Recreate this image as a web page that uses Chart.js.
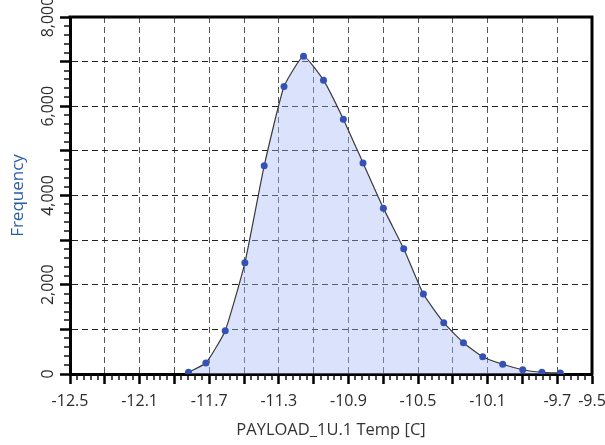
<!DOCTYPE html>
<html>
<head>
<meta charset="utf-8">
<script src="https://cdn.jsdelivr.net/npm/chart.js@4.4.0/dist/chart.umd.min.js"></script>
<style>
  html, body { margin: 0; padding: 0; background: #fff; }
  #wrap { width: 605px; height: 445px; }
</style>
</head>
<body>
<div id="wrap"><canvas id="histChart"></canvas></div>
<script>
// bin centres (deg C) and counts
var tempBins = [-11.819, -11.719, -11.608, -11.495, -11.384, -11.270, -11.158, -11.043, -10.929, -10.816,
                -10.699, -10.582, -10.469, -10.352, -10.239, -10.128, -10.013, -9.898, -9.788, -9.682];
var frequency = [40, 246, 970, 2492, 4664, 6441, 7120, 6584, 5710, 4731,
                 3717, 2806, 1791, 1149, 701, 388, 218, 96, 38, 22];

var xMin = -12.5, xMax = -9.5, xStep = 0.2, xMinorStep = 0.04;
var yMin = 0, yMax = 8000, yStep = 1000, yMinorStep = 200;
var xTitle = 'PAYLOAD_1U.1 Temp [C]';
var yTitle = 'Frequency';

Chart.defaults.font.family = "'Open Sans', 'Noto Sans', sans-serif";

// small ticks between the big ones + closing the frame on top/right
var frameTicks = {
    id: 'frameTicks',
    afterDraw: function(chart) {
        var ctx = chart.ctx, a = chart.chartArea;
        var xs = chart.scales.x, ys = chart.scales.y;
        var nx = Math.round((xMax - xMin) / xMinorStep);
        var ny = Math.round((yMax - yMin) / yMinorStep);
        var perX = Math.round(xStep / xMinorStep), perY = Math.round(yStep / yMinorStep);
        ctx.save();
        ctx.strokeStyle = '#111';
        ctx.lineWidth = 1.5;
        ctx.beginPath();
        for (var i = 0; i <= nx; i++) {
            if (i % perX === 0) continue;
            var px = Math.round(xs.getPixelForValue(xMin + i * xMinorStep));
            ctx.moveTo(px, a.bottom);
            ctx.lineTo(px, a.bottom + 6);
        }
        for (var j = 0; j <= ny; j++) {
            if (j % perY === 0) continue;
            var py = Math.round(ys.getPixelForValue(yMin + j * yMinorStep));
            ctx.moveTo(a.left - 6, py);
            ctx.lineTo(a.left, py);
        }
        ctx.stroke();
        ctx.lineWidth = 3;
        ctx.strokeStyle = '#000';
        ctx.beginPath();
        ctx.moveTo(a.left - 1.5, a.top);
        ctx.lineTo(a.right, a.top);
        ctx.lineTo(a.right, a.bottom + 1.5);
        ctx.stroke();
        ctx.restore();
    }
};

new Chart(document.getElementById('histChart'), {
    type: 'line',
    data: {
        datasets: [{
            data: tempBins.map(function(t, i) { return { x: t, y: frequency[i] }; }),
            borderColor: '#3a3a3a',
            borderWidth: 1.2,
            backgroundColor: 'rgba(165, 182, 245, 0.4)',
            fill: 'origin',
            tension: 0.15,
            pointRadius: 3.5,
            pointBackgroundColor: '#3452b4',
            pointBorderColor: '#3452b4',
            pointBorderWidth: 0
        }]
    },
    options: {
        responsive: true,
        maintainAspectRatio: false,
        animation: false,
        layout: { padding: { top: 17, right: 13, left: 0, bottom: 0 } },
        plugins: {
            legend: { display: false },
            tooltip: { enabled: false }
        },
        scales: {
            x: {
                type: 'linear',
                min: xMin,
                max: xMax,
                afterFit: function(s) { s.height = 71; s.paddingLeft = 0; s.paddingRight = 0; },
                border: { display: true, color: '#000', width: 3, dash: [6, 4] },
                grid: { color: '#555', lineWidth: 1, tickLength: 10, tickColor: '#000', tickWidth: 2.5 },
                ticks: {
                    stepSize: xStep,
                    autoSkip: false,
                    maxRotation: 0,
                    padding: 8,
                    color: '#2a2a2a',
                    font: { size: 16 },
                    callback: function(v) {
                        var k = Math.round((v - xMin) / xStep);
                        return (k % 2 === 0 || Math.abs(v - xMax) < 1e-6) ? v.toFixed(1) : '';
                    }
                },
                title: { display: true, text: xTitle, color: '#333', font: { size: 16.5 }, padding: { top: 0, bottom: 5 } }
            },
            y: {
                min: yMin,
                max: yMax,
                afterFit: function(s) { s.width = 70; s.paddingTop = 0; s.paddingBottom = 0; },
                border: { display: true, color: '#000', width: 3, dash: [6, 4] },
                grid: { color: '#222', lineWidth: 1, tickLength: 10, tickColor: '#000', tickWidth: 2.5 },
                ticks: {
                    stepSize: yStep,
                    autoSkip: false,
                    minRotation: 90,
                    crossAlign: 'center',
                    padding: -8.5,
                    color: '#2a2a2a',
                    font: { size: 16 },
                    callback: function(v) {
                        return v % 2000 === 0 ? v.toLocaleString('en-US') : '';
                    }
                },
                title: { display: true, text: yTitle, color: '#2a5ca8', font: { size: 17 }, padding: { top: 8, bottom: 0 } }
            }
        }
    },
    plugins: [frameTicks]
});
</script>
</body>
</html>
